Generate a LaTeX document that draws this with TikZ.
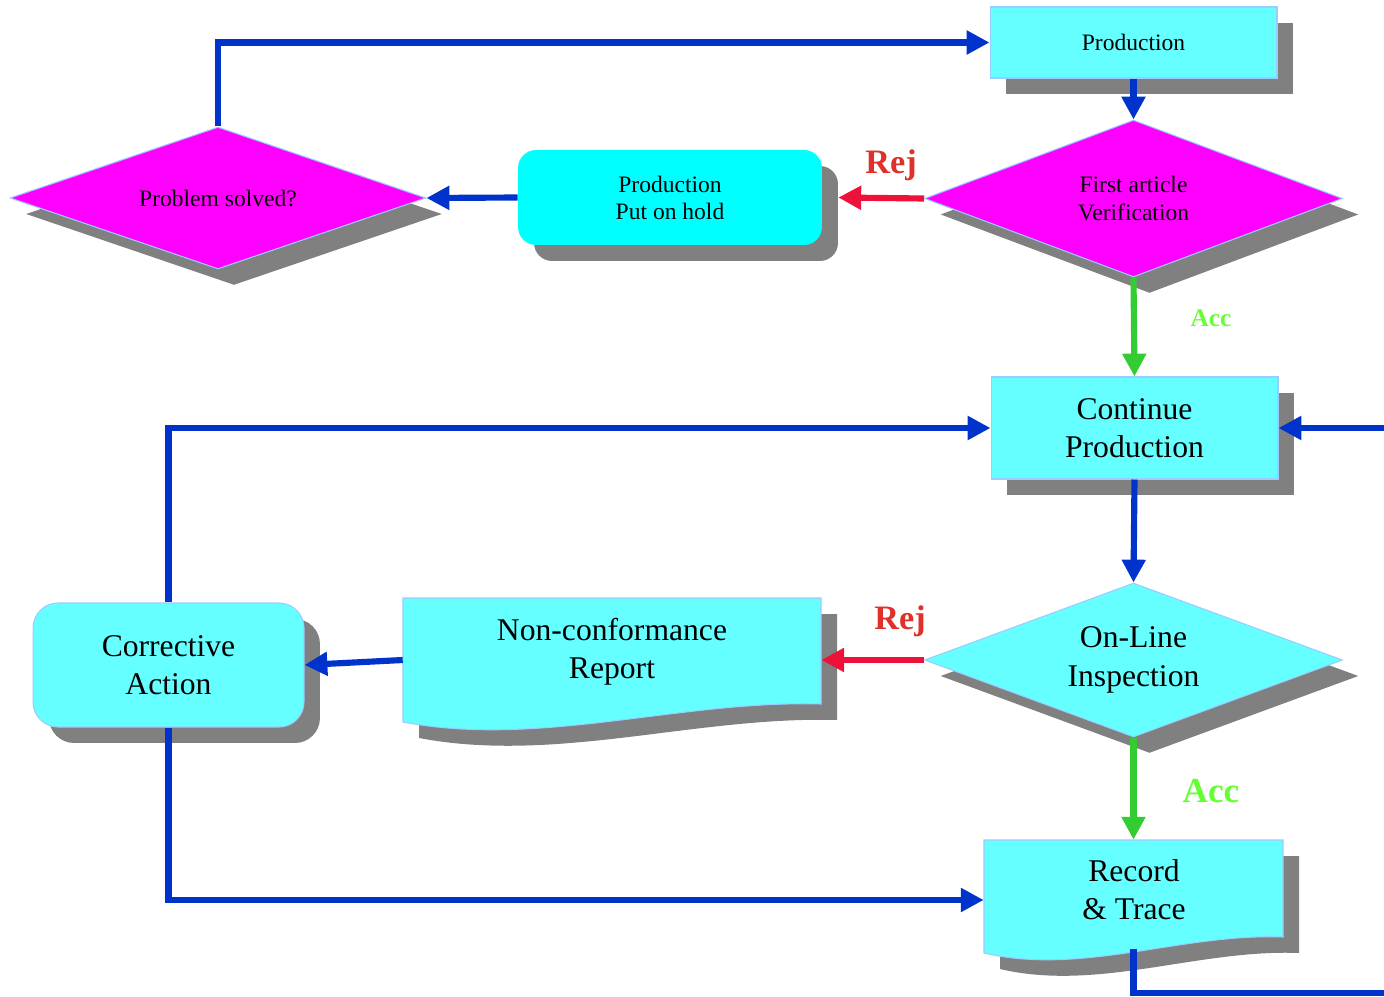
\documentclass[tikz,border=0pt]{standalone}
\usepackage{fontspec}
\setmainfont{Liberation Serif}
\usetikzlibrary{shapes.geometric,shadows,arrows.meta}
\definecolor{lcyan}{HTML}{66FFFF}
\definecolor{hcyan}{HTML}{00FFFF}
\definecolor{magent}{HTML}{FF00FF}
\definecolor{shadowgray}{HTML}{808080}
\definecolor{edgeblue}{HTML}{99CCFF}
\definecolor{lineblue}{HTML}{0033CC}
\definecolor{linered}{HTML}{EE1139}
\definecolor{rejred}{HTML}{E0302A}
\definecolor{linegreen}{HTML}{33CC33}
\definecolor{accgreen}{HTML}{66FF33}
\begin{document}
\begin{tikzpicture}[x=0.02cm,y=-0.02cm,
  shad/.style={drop shadow={shadow xshift=0.32cm,shadow yshift=-0.32cm,fill=shadowgray,opacity=1}},
  smalltxt/.style={font=\fontsize{13.4}{15.4}\selectfont,align=center},
  bigtxt/.style={font=\fontsize{18}{21.8}\selectfont,align=center},
  boxnode/.style={rectangle,fill=lcyan,draw=edgeblue,line width=0.6pt,shad,inner sep=0pt},
  dianode/.style={diamond,draw=edgeblue,line width=0.6pt,shad,inner sep=0pt},
  docnode/.style={rectangle,inner sep=0pt},
  conn/.style={line width=3.5pt,-{Triangle[length=13pt,width=13pt]}},
  blueline/.style={conn,draw=lineblue},
  redline/.style={conn,draw=linered},
  greenline/.style={conn,draw=linegreen},
  plainblue/.style={line width=3.5pt,draw=lineblue},
  rejlabel/.style={font=\bfseries\fontsize{19.5}{22}\selectfont,text=rejred},
]
\useasboundingbox (0,0) rectangle (1384,997);

% top row
\node[boxnode,smalltxt,minimum width=5.74cm,minimum height=1.42cm] (prod) at (1133.5,42.5) {Production};
\node[dianode,fill=magent,smalltxt,aspect=2.66,minimum width=8.36cm,minimum height=3.14cm] (fa) at (1133.5,198.5) {First article\\Verification};
\node[rectangle,rounded corners=0.36cm,fill=hcyan,shad,smalltxt,inner sep=0pt,minimum width=6.08cm,minimum height=1.9cm] (hold) at (670,197.5) {Production\\Put on hold};
\node[dianode,fill=magent,smalltxt,aspect=2.93,minimum width=8.32cm,minimum height=2.84cm] (ps) at (218,198) {Problem solved?};

% middle
\node[boxnode,bigtxt,minimum width=5.74cm,minimum height=2.04cm] (cont) at (1134.5,428) {Continue\\Production};
\node[dianode,fill=lcyan,bigtxt,aspect=2.71,minimum width=8.36cm,minimum height=3.08cm] (ol) at (1133.5,660) {On-Line\\Inspection};

% non-conformance report (document shape)
\fill[shadowgray,shift={(16,16)}] (403,598) -- (821,598) -- (821,704) .. controls (680,700) and (540,748) .. (403,722) -- cycle;
\filldraw[fill=lcyan,draw=edgeblue,line width=0.6pt] (403,598) -- (821,598) -- (821,704) .. controls (680,700) and (540,748) .. (403,722) -- cycle;
\node[docnode,minimum width=8.36cm,minimum height=2.48cm] (ncr) at (612,660) {};
\node[bigtxt] (ncrtxt) at (612,652) {Non-conformance\\Report};

% corrective action
\node[boxnode,rounded corners=0.5cm,bigtxt,minimum width=5.42cm,minimum height=2.48cm] (ca) at (168.5,665) {Corrective\\Action};

% record & trace (document shape)
\fill[shadowgray,shift={(16,16)}] (984,840) -- (1283,840) -- (1283,937) .. controls (1182,933) and (1082,976) .. (984,953) -- cycle;
\filldraw[fill=lcyan,draw=edgeblue,line width=0.6pt] (984,840) -- (1283,840) -- (1283,937) .. controls (1182,933) and (1082,976) .. (984,953) -- cycle;
\node[docnode,minimum width=5.98cm,minimum height=2.26cm] (rec) at (1133.5,896.5) {};
\node[bigtxt] (rectxt) at (1134,890) {Record\\\& Trace};

% labels
\node[rejlabel] (rej1) at (891,165) {Rej};
\node[rejlabel] (rej2) at (900,621) {Rej};
\node[font=\bfseries\fontsize{14.4}{16}\selectfont,text=accgreen] (acc1) at (1211,318) {Acc};
\node[font=\bfseries\fontsize{20}{22}\selectfont,text=accgreen] (acc2) at (1211,791) {Acc};

% free ends
\coordinate (inR) at (1384,428);
\coordinate (outR) at (1384,993);

% connectors
\draw[blueline] (ps.north) |- (prod.west);
\draw[blueline] (prod.south) -- (fa.north);
\draw[redline] (fa.west) -- ([xshift=0.32cm]hold.east);
\draw[blueline] (hold.west) -- (ps.east);
\draw[greenline] (fa.south) -- (cont.north);
\draw[blueline] (cont.south) -- (ol.north);
\draw[redline] (ol.west) -- (ncr.east);
\draw[blueline] (ncr.west) -- (ca.east);
\draw[blueline] (ca.north) |- (cont.west);
\draw[blueline] (inR) -- (cont.east);
\draw[greenline] (ol.south) -- (rec.north);
\draw[blueline] (ca.south) |- ([yshift=-0.07cm]rec.west);
\draw[plainblue] ([yshift=0.08cm]rec.south) |- (outR);
\end{tikzpicture}
\end{document}
